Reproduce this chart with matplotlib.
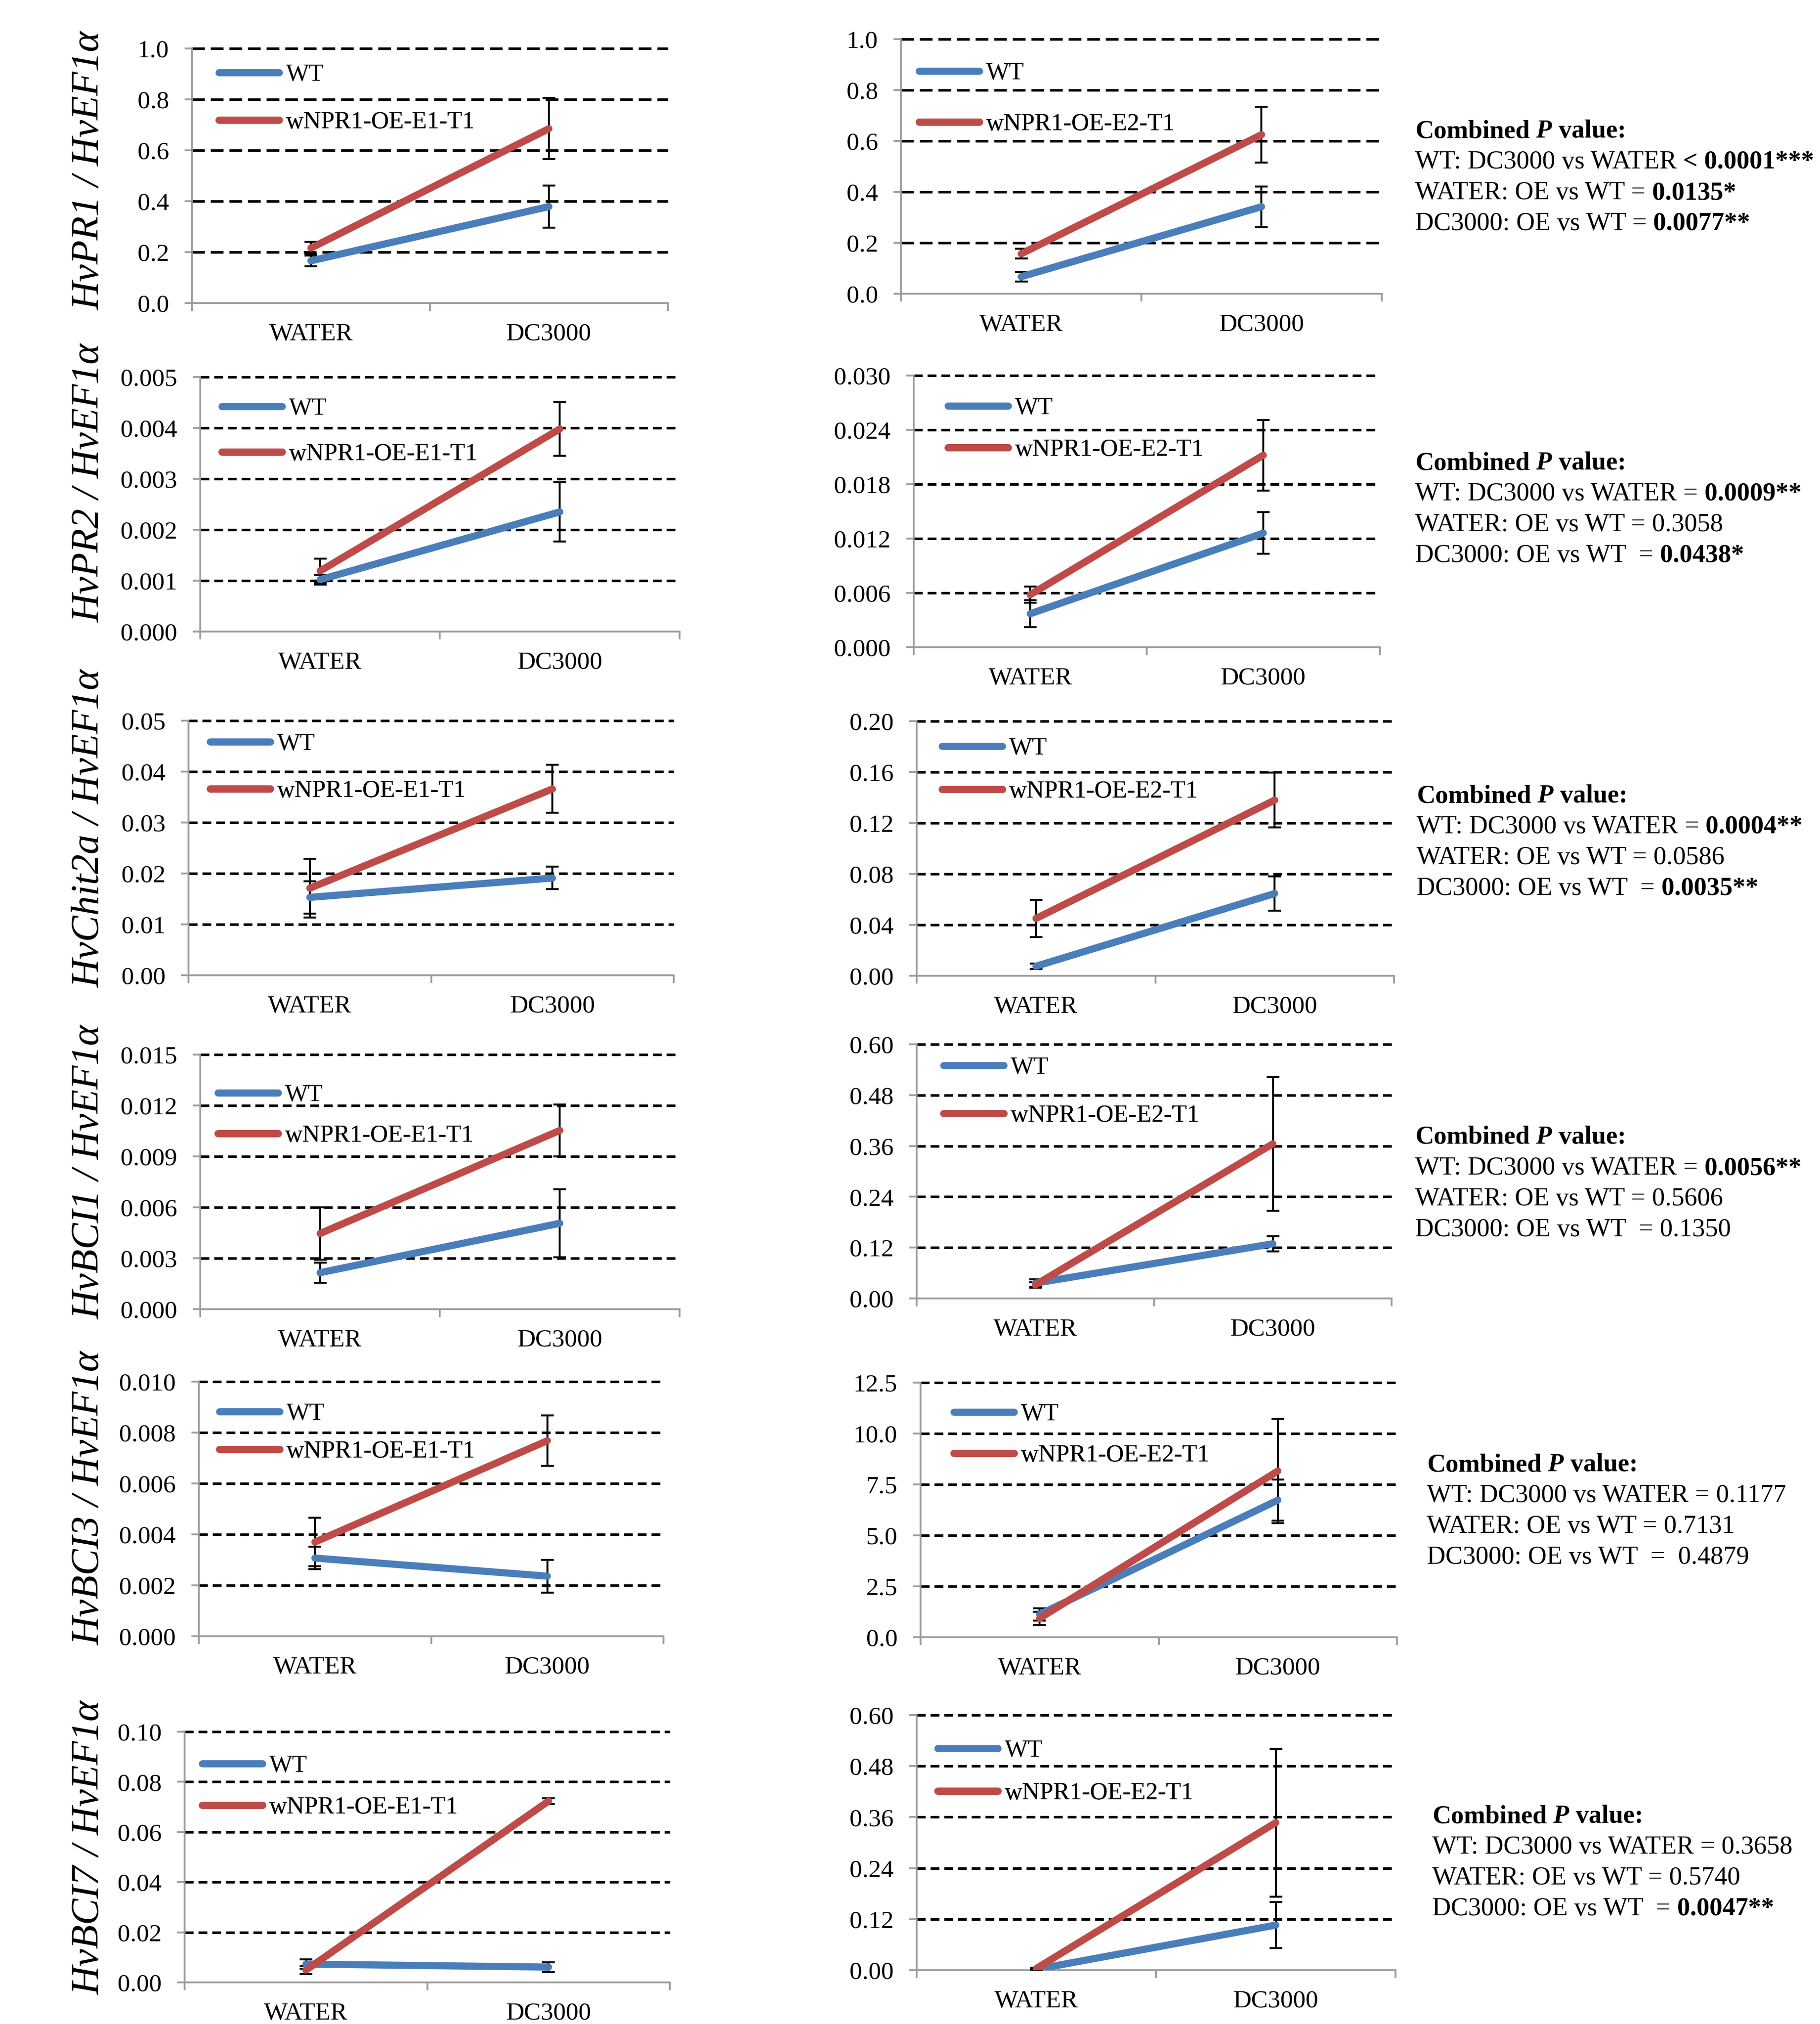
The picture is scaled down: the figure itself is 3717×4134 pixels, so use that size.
import matplotlib
matplotlib.use('Agg')
import matplotlib.pyplot as plt

plt.rcParams['font.family'] = ['Liberation Serif', 'DejaVu Serif']

# ---------------- data ----------------
CATEGORIES = ['WATER', 'DC3000']
GENES = ['HvPR1', 'HvPR2', 'HvChit2a', 'HvBCI1', 'HvBCI3', 'HvBCI7']
REF_GENE = 'HvEF1α'
LABEL_WT = 'WT'
LABEL_E1 = 'wNPR1-OE-E1-T1'
LABEL_E2 = 'wNPR1-OE-E2-T1'

# line E1 (left column): mean and SE for [WATER, DC3000]
E1_WT_MEAN = [[0.166, 0.379], [0.00102, 0.00235], [0.0153, 0.0191],
              [0.00215, 0.00506], [0.00307, 0.00236], [0.0073, 0.0061]]
E1_WT_SE = [[0.021, 0.083], [0.0001, 0.00058], [0.0032, 0.0022],
            [0.0006, 0.0020], [0.00044, 0.00064], [0.0018, 0.0020]]
E1_OE_MEAN = [[0.216, 0.685], [0.00119, 0.00398], [0.0171, 0.0366],
              [0.00446, 0.01053], [0.0037, 0.00768], [0.0049, 0.0723]]
E1_OE_SE = [[0.024, 0.120], [0.00024, 0.00053], [0.0058, 0.0047],
            [0.00155, 0.00152], [0.00095, 0.00099], [0.0015, 0.0012]]

# line E2 (right column)
E2_WT_MEAN = [[0.067, 0.342], [0.0037, 0.0126], [0.0075, 0.0646],
              [0.036, 0.129], [1.12, 6.73], [0.002, 0.106]]
E2_WT_SE = [[0.018, 0.080], [0.0015, 0.0023], [0.002, 0.0135],
            [0.009, 0.018], [0.30, 1.02], [0.001, 0.054]]
E2_OE_MEAN = [[0.157, 0.625], [0.0058, 0.0212], [0.045, 0.138],
              [0.032, 0.365], [0.93, 8.16], [0.004, 0.347]]
E2_OE_SE = [[0.019, 0.110], [0.0009, 0.0039], [0.0147, 0.0215],
            [0.006, 0.158], [0.33, 2.55], [0.002, 0.174]]

E1_YTICKS = [['0.0', '0.2', '0.4', '0.6', '0.8', '1.0'],
             ['0.000', '0.001', '0.002', '0.003', '0.004', '0.005'],
             ['0.00', '0.01', '0.02', '0.03', '0.04', '0.05'],
             ['0.000', '0.003', '0.006', '0.009', '0.012', '0.015'],
             ['0.000', '0.002', '0.004', '0.006', '0.008', '0.010'],
             ['0.00', '0.02', '0.04', '0.06', '0.08', '0.10']]
E2_YTICKS = [['0.0', '0.2', '0.4', '0.6', '0.8', '1.0'],
             ['0.000', '0.006', '0.012', '0.018', '0.024', '0.030'],
             ['0.00', '0.04', '0.08', '0.12', '0.16', '0.20'],
             ['0.00', '0.12', '0.24', '0.36', '0.48', '0.60'],
             ['0.0', '2.5', '5.0', '7.5', '10.0', '12.5'],
             ['0.00', '0.12', '0.24', '0.36', '0.48', '0.60']]

# P value text: list of lines, each a list of (text, bold)
P_TEXTS = [
    [[('WT: DC3000 vs WATER', False), (' < 0.0001***', True)],
     [('WATER: OE vs WT =', False), (' 0.0135*', True)],
     [('DC3000: OE vs WT =', False), (' 0.0077**', True)]],
    [[('WT: DC3000 vs WATER =', False), (' 0.0009**', True)],
     [('WATER: OE vs WT = 0.3058', False)],
     [('DC3000: OE vs WT  =', False), (' 0.0438*', True)]],
    [[('WT: DC3000 vs WATER =', False), (' 0.0004**', True)],
     [('WATER: OE vs WT = 0.0586', False)],
     [('DC3000: OE vs WT  =', False), (' 0.0035**', True)]],
    [[('WT: DC3000 vs WATER =', False), (' 0.0056**', True)],
     [('WATER: OE vs WT = 0.5606', False)],
     [('DC3000: OE vs WT  = 0.1350', False)]],
    [[('WT: DC3000 vs WATER = 0.1177', False)],
     [('WATER: OE vs WT = 0.7131', False)],
     [('DC3000: OE vs WT  =  0.4879', False)]],
    [[('WT: DC3000 vs WATER = 0.3658', False)],
     [('WATER: OE vs WT = 0.5740', False)],
     [('DC3000: OE vs WT  =', False), (' 0.0047**', True)]],
]

# ---------------- layout (pixels) ----------------
W, H, DPI = 3717, 4134, 100
LEFT_AX = [(392, 1364, 99, 619), (409, 1388, 770, 1290), (385, 1376, 1472, 1992),
           (409, 1388, 2154, 2674), (406, 1355, 2822, 3342), (377, 1368, 3537, 4049)]
RIGHT_AX = [(1840, 2822, 80, 600), (1866, 2818, 767, 1322), (1872, 2847, 1473, 1993),
            (1872, 2842, 2133, 2652), (1880, 2853, 2824, 3344), (1872, 2850, 3503, 4024)]
LEFT_LEG = [(440, 148, 245), (446, 830, 923), (422, 1515, 1611),
            (438, 2232, 2315), (441, 2883, 2960), (406, 3602, 3687)]
RIGHT_LEG = [(1870, 145, 249), (1929, 829, 914), (1917, 1524, 1612),
             (1920, 2176, 2274), (1941, 2884, 2968), (1908, 3571, 3658)]
YLABEL_X = 202
YLABEL_Y = [348, 986, 1692, 2393, 3059, 3773]
P_X = [2890, 2890, 2893, 2890, 2914, 2925]
P_Y = [281, 959, 1639, 2336, 3005, 3723]
P_STEP = 63
ROW_DASH_PX = [(26, 12), (18, 10), (18, 10), (18, 10), (18, 10), (18, 10)]

BLUE = '#4A7EBB'
RED = '#BE4B48'
SPINE = '#9a9a9a'
LW = 10.5
GRID_LW = 3.8
TICK_FS = 37
LEG_FS = 36
PT = 72.0 / DPI  # points per pixel

fig = plt.figure(figsize=(W / DPI, H / DPI), dpi=DPI)
tax = fig.add_axes([0, 0, 1, 1])
tax.set_xlim(0, W)
tax.set_ylim(H, 0)
tax.axis('off')


def make_axes(box):
    x0, x1, yt, yb = box
    return fig.add_axes([x0 / W, 1 - yb / H, (x1 - x0) / W, (yb - yt) / H])


def draw_panel(ax, box, wt, wt_se, oe, oe_se, ticks, oe_label, leg, dash_px):
    xs = [0.5, 1.5]
    yt = [float(t) for t in ticks]
    dash = (dash_px[0] * PT / GRID_LW, dash_px[1] * PT / GRID_LW)
    ax.hlines(yt[1:], 0, 2, colors='black', linewidth=GRID_LW,
              linestyles=[(0, dash)], zorder=1, clip_on=False)
    for m, s in ((wt, wt_se), (oe, oe_se)):
        ax.errorbar(xs, m, yerr=s, fmt='none', ecolor='black', elinewidth=2.8,
                    capsize=9.4, capthick=2.8, zorder=3)
    l_wt, = ax.plot(xs, wt, color=BLUE, lw=LW, solid_capstyle='round', zorder=4)
    l_oe, = ax.plot(xs, oe, color=RED, lw=LW, solid_capstyle='round', zorder=5)

    ax.set_xlim(0, 2)
    ax.set_ylim(0, yt[-1])
    ax.set_yticks(yt)
    ax.set_yticklabels(ticks)
    ax.set_xticks([0, 1, 2])
    ax.set_xticklabels([])
    ax.set_xticks(xs, minor=True)
    ax.set_xticklabels(CATEGORIES, minor=True)
    ax.tick_params(axis='x', which='minor', length=0, pad=29, labelsize=TICK_FS)
    ax.tick_params(axis='x', which='major', length=11.5, width=2.6, color=SPINE,
                   direction='out')
    ax.tick_params(axis='y', length=10.8, width=2.6, color=SPINE, pad=23,
                   labelsize=TICK_FS, direction='out')
    for s in ('top', 'right'):
        ax.spines[s].set_visible(False)
    for s in ('left', 'bottom'):
        ax.spines[s].set_color(SPINE)
        ax.spines[s].set_linewidth(2.6)
    ax.patch.set_alpha(0)

    # legend entries positioned individually
    x0, x1, ytop, ybot = box
    lx, ly1, ly2 = leg
    fs_px = LEG_FS / PT
    hl = (137 - LW / PT) / fs_px
    fx = (lx + LW / PT / 2 - x0) / (x1 - x0)
    for line, lab, ly in ((l_wt, LABEL_WT, ly1), (l_oe, oe_label, ly2)):
        fy = (ybot - (ly + 5)) / (ybot - ytop)
        lg = ax.legend([line], [lab], loc='center left', bbox_to_anchor=(fx, fy),
                       borderaxespad=0, borderpad=0, frameon=False,
                       handlelength=hl, handletextpad=0.28, fontsize=LEG_FS)
        ax.add_artist(lg)


for i in range(6):
    axl = make_axes(LEFT_AX[i])
    draw_panel(axl, LEFT_AX[i], E1_WT_MEAN[i], E1_WT_SE[i], E1_OE_MEAN[i], E1_OE_SE[i],
               E1_YTICKS[i], LABEL_E1, LEFT_LEG[i], ROW_DASH_PX[i])
    axr = make_axes(RIGHT_AX[i])
    draw_panel(axr, RIGHT_AX[i], E2_WT_MEAN[i], E2_WT_SE[i], E2_OE_MEAN[i], E2_OE_SE[i],
               E2_YTICKS[i], LABEL_E2, RIGHT_LEG[i], ROW_DASH_PX[i])
    tax.text(YLABEL_X, YLABEL_Y[i], f'{GENES[i]} / {REF_GENE}', fontsize=58,
             fontstyle='italic', rotation=90, rotation_mode='anchor',
             ha='center', va='baseline')


def rich_line(x, y, parts, fs=38):
    prev = None
    for txt, weight, style in parts:
        if prev is None:
            prev = tax.text(x, y, txt, fontsize=fs, fontweight=weight, fontstyle=style,
                            ha='left', va='baseline')
        else:
            prev = tax.annotate(txt, xy=(1, 0), xycoords=prev, fontsize=fs,
                                fontweight=weight, fontstyle=style,
                                ha='left', va='bottom')


for i in range(6):
    x, y = P_X[i], P_Y[i]
    rich_line(x, y, [('Combined', 'bold', 'normal'), (' P', 'bold', 'italic'),
                     (' value:', 'bold', 'normal')])
    for j, line in enumerate(P_TEXTS[i]):
        parts = [(t, 'bold' if b else 'normal', 'normal') for t, b in line]
        rich_line(x, y + (j + 1) * P_STEP, parts)

fig.savefig('out.png', dpi=DPI, facecolor='white')
